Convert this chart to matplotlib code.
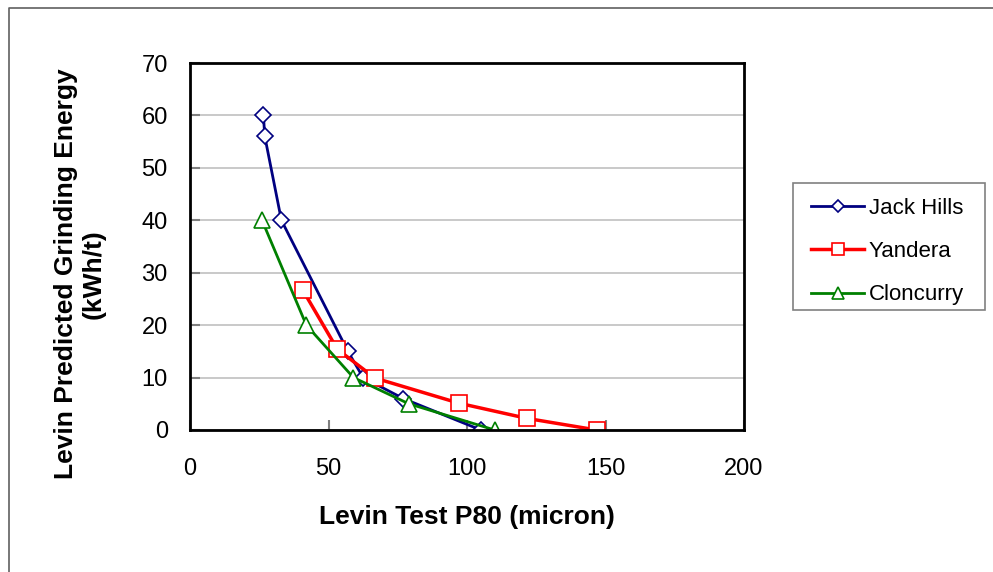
import matplotlib
matplotlib.use("Agg")
import matplotlib.pyplot as plt
from matplotlib.lines import Line2D
from matplotlib.patches import Rectangle

plt.rcParams['font.family'] = ['Liberation Sans', 'DejaVu Sans']

# data
jack_x = [26.5, 27, 33, 57, 62.5, 77, 105]
jack_y = [60, 56, 40, 15, 10, 6, 0]
yand_x = [40.7, 53.2, 66.8, 97.2, 121.8, 146.8]
yand_y = [26.7, 15.4, 9.9, 5.1, 2.2, 0]
clon_x = [26, 42, 59, 79, 110]
clon_y = [40, 20, 10, 5, 0]

W, H = 993, 572
fig = plt.figure(figsize=(W / 100, H / 100), dpi=100)

# outer chart-area border (runs off the right and bottom edges)
fig.add_artist(Line2D([9 / W, 9 / W, 1.0], [0.0, 1 - 8 / H, 1 - 8 / H],
                      transform=fig.transFigure, color='#606060', lw=1.2))

ax = fig.add_axes([190 / W, (H - 430) / H, 554 / W, 367 / H])

ax.plot(jack_x, jack_y, color='#000080', lw=2, marker='D', markersize=8.5,
        markerfacecolor='white', markeredgecolor='#000080', markeredgewidth=1.2,
        label='Jack Hills')
ax.plot(yand_x, yand_y, color='#ff0000', lw=2.5, marker='s', markersize=12,
        markerfacecolor='white', markeredgecolor='#ff0000', markeredgewidth=1.2,
        label='Yandera')
ax.plot(clon_x, clon_y, color='#008000', lw=2, marker='^', markersize=12,
        markerfacecolor='white', markeredgecolor='#008000', markeredgewidth=1.2,
        label='Cloncurry')

ax.set_xlim(0, 200)
ax.set_ylim(0, 70)
ax.set_xticks([0, 50, 100, 150, 200])
ax.set_yticks(range(0, 71, 10))
ax.yaxis.grid(True, color='#c0c0c0', lw=1.2)
ax.set_axisbelow(True)
ax.tick_params(direction='in', length=7, width=1.5, color='#808080',
               labelsize=17)
ax.tick_params(axis='y', pad=16)
ax.tick_params(axis='x', pad=20)
for s in ax.spines.values():
    s.set_linewidth(2)
    s.set_color('black')

ax.set_xlabel('Levin Test P80 (micron)', fontsize=19, fontweight='bold', labelpad=18)
fig.text(80 / W, 1 - 274 / H, 'Levin Predicted Grinding Energy\n(kWh/t)',
         rotation=90, ha='center', va='center', fontsize=19, fontweight='bold',
         multialignment='center', linespacing=1.2)

# legend box drawn separately so its padding matches the original
fig.add_artist(Rectangle((793 / W, 1 - 310 / H), 192 / W, 127 / H,
                         transform=fig.transFigure, facecolor='white',
                         edgecolor='#808080', lw=1.2, zorder=-1))
leg = ax.legend(loc='upper left', bbox_to_anchor=(811 / W, 1 - 198 / H),
                bbox_transform=fig.transFigure, fontsize=16, frameon=False,
                handlelength=2.4, handletextpad=0.2, labelspacing=1.0,
                borderpad=0, markerscale=0.75, borderaxespad=0)

fig.savefig('out.png', dpi=100)
